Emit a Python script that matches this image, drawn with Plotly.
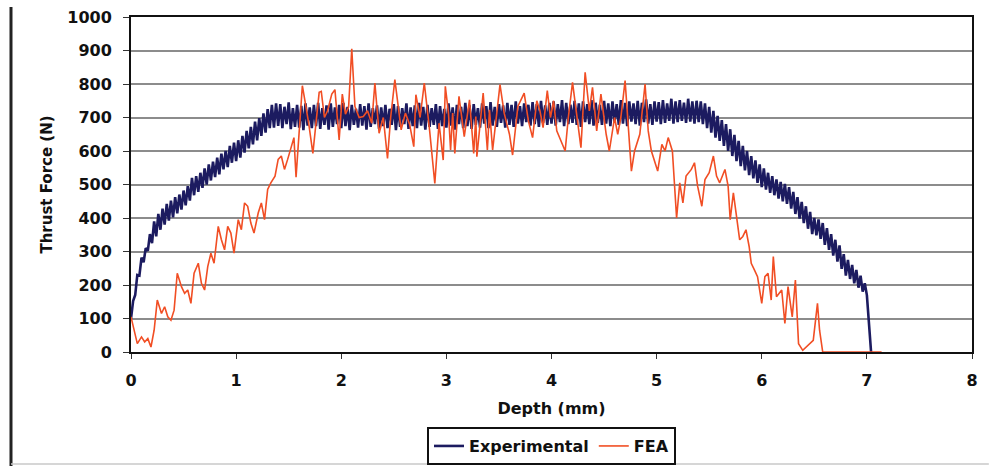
import numpy as np
import plotly.graph_objects as go

# Experimental thrust force, sampled every 0.02 mm from 0 to 7.00 mm (N)
exp_step = 0.02
exp_force = [
    100, 152, 170, 230, 228, 282, 268, 310, 302, 352,
    325, 390, 345, 412, 365, 428, 380, 442, 392, 452,
    402, 462, 414, 470, 425, 482, 438, 495, 452, 520,
    468, 525, 478, 535, 490, 548, 500, 560, 512, 568,
    522, 580, 530, 592, 545, 600, 552, 615, 565, 625,
    570, 632, 580, 645, 595, 660, 608, 672, 620, 688,
    632, 698, 645, 712, 655, 725, 668, 738, 670, 742,
    675, 740, 668, 732, 680, 745, 665, 728, 672, 738,
    670, 735, 662, 742, 676, 730, 668, 738, 674, 744,
    666, 728, 678, 736, 664, 742, 672, 730, 680, 738,
    668, 744, 674, 732, 662, 738, 678, 726, 670, 740,
    676, 734, 664, 742, 672, 728, 680, 736, 666, 730,
    674, 738, 668, 726, 678, 740, 662, 734, 672, 728,
    680, 742, 666, 730, 674, 736, 668, 744, 676, 732,
    664, 738, 672, 728, 678, 740, 666, 734, 674, 726,
    670, 742, 676, 730, 664, 738, 680, 732, 668, 744,
    674, 736, 666, 740, 678, 728, 670, 742, 682, 734,
    668, 746, 676, 732, 672, 740, 684, 736, 670, 744,
    678, 738, 672, 748, 682, 734, 674, 742, 686, 738,
    676, 746, 680, 740, 672, 750, 684, 736, 678, 744,
    682, 748, 676, 740, 686, 752, 674, 744, 680, 738,
    684, 750, 678, 742, 672, 748, 686, 740, 680, 752,
    676, 744, 684, 738, 678, 750, 682, 742, 674, 748,
    686, 740, 678, 752, 682, 744, 674, 748, 688, 742,
    680, 750, 676, 744, 686, 754, 682, 740, 678, 748,
    688, 746, 680, 752, 684, 742, 690, 756, 682, 748,
    686, 752, 690, 744, 684, 756, 688, 748, 682, 750,
    686, 748, 680, 742, 668, 732, 655, 720, 640, 705,
    630, 692, 615, 680, 600, 665, 585, 648, 570, 630,
    555, 615, 542, 600, 528, 585, 518, 572, 505, 560,
    492, 548, 485, 535, 475, 525, 468, 515, 458, 508,
    450, 502, 442, 492, 428, 478, 412, 462, 398, 448,
    385, 435, 368, 418, 352, 400, 348, 396, 338, 385,
    320, 370, 305, 352, 288, 335, 270, 318, 248, 292,
    228, 275, 218, 260, 205, 245, 192, 228, 180, 205,
    170,
]
# Final drop of the experimental record
exp_tail_depth = [7.02, 7.04]
exp_tail_force = [90, 0]

# FEA thrust force (depth in mm, force in N)
fea_depth = [
    0.00, 0.03, 0.06, 0.10, 0.13, 0.16, 0.19, 0.22, 0.25, 0.29,
    0.32, 0.35, 0.38, 0.41, 0.44, 0.48, 0.51, 0.54, 0.57, 0.60,
    0.64, 0.67, 0.70, 0.73, 0.76, 0.79, 0.83, 0.86, 0.89, 0.92,
    0.95, 0.98, 1.02, 1.05, 1.08, 1.11, 1.14, 1.17, 1.21, 1.24,
    1.27, 1.30, 1.33, 1.37, 1.40, 1.43, 1.46, 1.49, 1.52, 1.55,
    1.57, 1.60, 1.63, 1.66, 1.69, 1.73, 1.76, 1.79, 1.81, 1.84,
    1.87, 1.91, 1.94, 1.98, 2.01, 2.04, 2.07, 2.10, 2.13, 2.17,
    2.21, 2.25, 2.29, 2.32, 2.36, 2.40, 2.44, 2.47, 2.51, 2.57,
    2.61, 2.65, 2.69, 2.71, 2.75, 2.79, 2.84, 2.89, 2.93, 2.97,
    2.99, 3.02, 3.04, 3.06, 3.08, 3.12, 3.17, 3.20, 3.22, 3.26,
    3.28, 3.29, 3.35, 3.39, 3.41, 3.44, 3.51, 3.55, 3.60, 3.63,
    3.68, 3.74, 3.78, 3.82, 3.86, 3.89, 3.92, 3.96, 3.99, 4.02,
    4.05, 4.13, 4.16, 4.20, 4.24, 4.28, 4.32, 4.36, 4.39, 4.43,
    4.47, 4.52, 4.55, 4.60, 4.63, 4.66, 4.70, 4.73, 4.76, 4.79,
    4.84, 4.89, 4.92, 4.95, 4.98, 5.01, 5.05, 5.08, 5.11, 5.15,
    5.19, 5.22, 5.25, 5.28, 5.33, 5.36, 5.39, 5.43, 5.46, 5.50,
    5.54, 5.57, 5.60, 5.65, 5.68, 5.70, 5.73, 5.76, 5.79, 5.82,
    5.85, 5.88, 5.90, 5.93, 5.96, 6.00, 6.03, 6.06, 6.09, 6.11,
    6.14, 6.19, 6.22, 6.25, 6.29, 6.32, 6.35, 6.39, 6.44, 6.49,
    6.53, 6.55, 6.58, 7.14,
]
fea_force = [
    105, 65, 25, 45, 30, 40, 15, 65, 155, 115,
    135, 105, 95, 125, 235, 195, 175, 185, 145, 235,
    265, 205, 185, 255, 295, 265, 375, 335, 305, 375,
    355, 295, 395, 365, 445, 435, 385, 355, 415, 445,
    395, 485, 505, 525, 575, 585, 545, 575, 610, 640,
    522, 650, 795, 740, 683, 593, 690, 775, 778, 700,
    720, 770, 783, 633, 770, 710, 731, 905, 733, 700,
    703, 720, 683, 803, 653, 700, 578, 700, 813, 663,
    713, 680, 613, 768, 700, 803, 663, 503, 683, 573,
    793, 713, 603, 713, 593, 763, 643, 703, 753, 593,
    703, 583, 773, 603, 723, 603, 798, 713, 650, 588,
    733, 773, 690, 640, 750, 720, 670, 780, 700, 750,
    660, 600, 700, 805, 700, 610, 835, 720, 790, 660,
    770, 650, 600, 700, 650, 700, 810, 660, 540, 600,
    650, 800, 660, 600, 570, 540, 620, 600, 640, 600,
    400, 505, 445, 525, 545, 565, 495, 435, 515, 535,
    585, 525, 505, 545, 495, 395, 475, 405, 335, 345,
    365, 315, 265, 245, 225, 145, 225, 235, 155, 285,
    165, 185, 85, 195, 105, 215, 25, 5, 20, 35,
    145, 65, 0, 0,
]

x_ticks = [0, 1, 2, 3, 4, 5, 6, 7, 8]
y_ticks = [0, 100, 200, 300, 400, 500, 600, 700, 800, 900, 1000]

exp_depth = list(np.round(np.arange(len(exp_force)) * exp_step, 2)) + exp_tail_depth
exp_values = exp_force + exp_tail_force

NAVY = "#1c1b60"
ORANGE = "#f14e24"
FONT = "DejaVu Sans"

fig = go.Figure()
fig.add_trace(go.Scatter(
    x=exp_depth, y=exp_values, mode="lines", name="Experimental",
    line=dict(color=NAVY, width=2.6),
))
fig.add_trace(go.Scatter(
    x=fea_depth, y=fea_force, mode="lines", name="FEA",
    line=dict(color=ORANGE, width=1.6),
))

axis_font = dict(family=FONT, size=16, color="#111111", weight="bold")

fig.update_layout(
    width=989, height=466,
    margin=dict(l=131, r=17, t=17, b=114, autoexpand=False),
    paper_bgcolor="white", plot_bgcolor="white",
    font=dict(family=FONT, color="#111111"),
    showlegend=True,
    legend=dict(
        orientation="h", x=0.5, xanchor="center", y=-0.224, yanchor="top",
        bordercolor="#111111", borderwidth=2, bgcolor="white",
        font=dict(family=FONT, size=16, color="#111111", weight="bold"),
        itemwidth=30, tracegroupgap=0,
    ),
    xaxis=dict(
        range=[0, 8], tickvals=x_ticks, ticktext=[str(v) for v in x_ticks],
        showgrid=False, zeroline=False, automargin=False,
        showline=True, linecolor="#111111", linewidth=2, mirror=True,
        ticks="outside", ticklen=5, tickcolor="#333333", tickwidth=1,
        ticklabelstandoff=8,
        tickfont=axis_font, layer="below traces",
        title=dict(text="Depth (mm)", font=axis_font, standoff=14),
    ),
    yaxis=dict(
        range=[0, 1000], tickvals=y_ticks, ticktext=[str(v) for v in y_ticks],
        showgrid=True, gridcolor="#8c8c8c", gridwidth=1.5, zeroline=False,
        automargin=False,
        showline=True, linecolor="#111111", linewidth=2, mirror=True,
        ticks="outside", ticklen=6, tickcolor="#333333", tickwidth=1,
        ticklabelstandoff=8,
        tickfont=axis_font, layer="below traces",
        title=dict(text="Thrust Force (N)", font=dict(family=FONT, size=15, color="#111111", weight="bold"), standoff=11),
    ),
    shapes=[
        # frame edges of the surrounding panel
        dict(type="line", xref="paper", yref="paper", x0=-0.1427, x1=-0.1427,
             y0=1.03, y1=-0.34, line=dict(color="#222222", width=3)),
        dict(type="line", xref="paper", yref="paper", x0=-0.1427, x1=1.02,
             y0=-0.334, y1=-0.334, line=dict(color="#c8c8c8", width=1.5)),
    ],
)

fig.write_html("out.html")
